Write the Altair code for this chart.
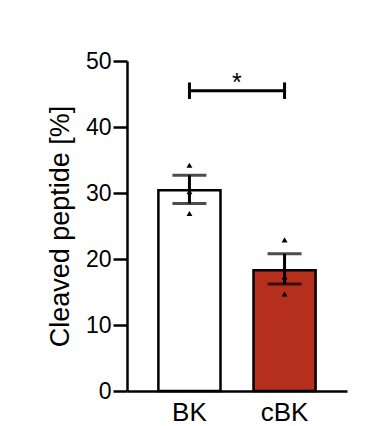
import altair as alt
import pandas as pd

groups = ["BK", "cBK"]
means = [30.4, 18.3]
err_lo = [28.4, 16.2]
err_hi = [32.7, 20.8]
fills = ["#ffffff", "#b62f1c"]
pt_group = ["BK", "BK", "BK", "cBK", "cBK", "cBK"]
pt_value = [34.2, 30.2, 26.9, 22.9, 17.3, 14.7]
sig_y = 45.5
sig_cap = 1.25
sig_label = "*"
y_ticks = [0, 10, 20, 30, 40, 50]

bars = pd.DataFrame({"g": groups, "m": means, "lo": err_lo, "hi": err_hi, "fill": fills})
pts = pd.DataFrame({"g": pt_group, "v": pt_value})
sig = pd.DataFrame({"g": [groups[0]], "g2": [groups[1]], "y": [sig_y], "t": [sig_label]})
caps = pd.DataFrame({"g": groups, "ylo": [sig_y - sig_cap] * 2, "yhi": [sig_y + sig_cap] * 2})

FONT = "Liberation Sans"
xscale = alt.Scale(domain=groups, paddingInner=0.347, paddingOuter=0.33)
yscale = alt.Scale(domain=[0, 50], nice=False)

xaxis = alt.Axis(title=None, ticks=False, labelAngle=0, labelFontSize=26, labelFont=FONT,
                 labelColor="black", labelPadding=8, domainColor="black", domainWidth=2.5,
                 grid=False)
yaxis = alt.Axis(title="Cleaved peptide [%]", values=y_ticks, tickSize=14, tickWidth=2.5,
                 tickColor="black", domainColor="black", domainWidth=2.5, grid=False,
                 labelFontSize=23, labelFont=FONT, labelColor="black", labelPadding=2,
                 titleFontSize=27, titleFont=FONT, titleFontWeight="normal",
                 titleColor="black", titlePadding=11)

xb = alt.X("g:N", scale=xscale, axis=xaxis, sort=groups)
xc = alt.X("g:N", scale=xscale, axis=xaxis, sort=groups, bandPosition=0.5)
yb = lambda f: alt.Y(f, scale=yscale, axis=yaxis)

bar = alt.Chart(bars).mark_bar(stroke="black", strokeWidth=2.5).encode(
    x=xb, y=yb("m:Q"), fill=alt.Fill("fill:N", scale=None))

err = alt.Chart(bars).mark_rule(color="black", strokeWidth=3).encode(
    x=xc, y=yb("lo:Q"), y2="hi:Q")
cap_hi = alt.Chart(bars).mark_tick(color="black", thickness=3, size=34, orient="horizontal").encode(
    x=xc, y=yb("hi:Q"))
cap_lo = alt.Chart(bars).mark_tick(color="black", thickness=3, size=34, orient="horizontal").encode(
    x=xc, y=yb("lo:Q"))

points = alt.Chart(pts).mark_point(shape="triangle-up", filled=True, color="black",
                                   size=35, opacity=1).encode(
    x=xc, y=yb("v:Q"))

sig_line = alt.Chart(sig).mark_rule(color="black", strokeWidth=3).encode(
    x=xc, x2="g2:N", y=yb("y:Q"))
sig_caps = alt.Chart(caps).mark_rule(color="black", strokeWidth=3).encode(
    x=xc, y=yb("ylo:Q"), y2="yhi:Q")
sig_text = alt.Chart(sig).mark_text(fontSize=25, font=FONT, color="black", dy=0, dx=47.5,
                                    baseline="alphabetic").encode(
    x=xc, y=yb("y:Q"), text="t:N")

chart = alt.layer(bar, err, cap_hi, cap_lo, points, sig_line, sig_caps, sig_text).properties(
    width=220, height=330,
    background="white",
    autosize=alt.AutoSizeParams(type="none"),
    padding={"left": 127, "top": 61, "right": 34, "bottom": 35},
).configure_view(stroke=None)

chart.save("out.html", embed_options={"renderer": "svg", "actions": False})
